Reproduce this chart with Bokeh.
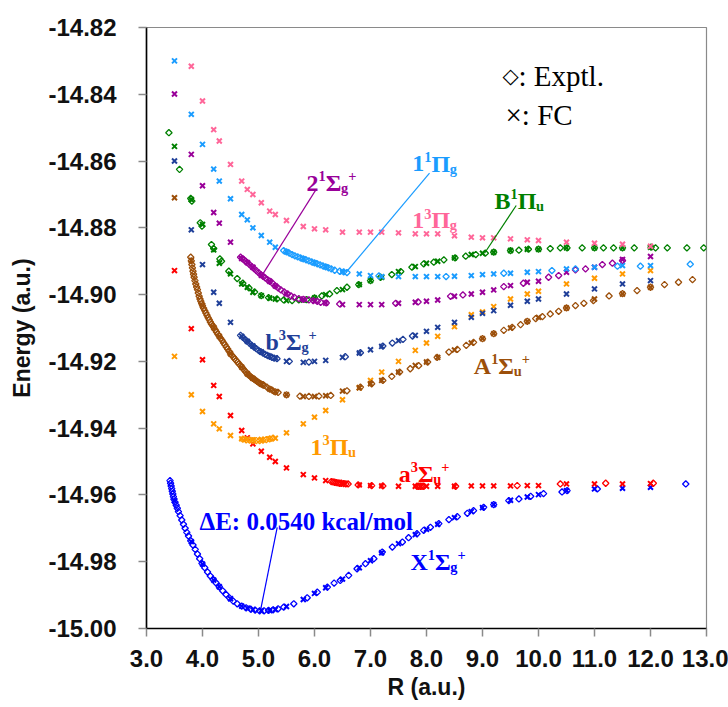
from bokeh.plotting import figure
from bokeh.models import Label, Range1d, FixedTicker, NumeralTickFormatter
from bokeh.embed import file_html
from bokeh.resources import INLINE

# ---------------- data ----------------
x_ticks = [3.0, 4.0, 5.0, 6.0, 7.0, 8.0, 9.0, 10.0, 11.0, 12.0, 13.0]
y_ticks = [-15.00, -14.98, -14.96, -14.94, -14.92, -14.90, -14.88, -14.86, -14.84, -14.82]

# common R grid of the FC points
fc_r = [3.5, 3.8, 4.0, 4.2, 4.3, 4.5, 4.7, 4.8, 4.9, 5.05, 5.2, 5.3, 5.5, 5.8, 6.0, 6.2,
        6.5, 6.8, 7.0, 7.2, 7.5, 7.8, 8.0, 8.2, 8.5, 8.8, 9.0, 9.2, 9.5, 9.8, 10.0,
        10.5, 11.0, 11.5, 12.0]

# X1Sigma_g+
x1_exp_r = [3.42, 3.43, 3.44, 3.45, 3.46, 3.47, 3.48, 3.49, 3.51, 3.53, 3.55, 3.57, 3.60, 3.63,
            3.66, 3.69, 3.72, 3.75, 3.79, 3.83, 3.87, 3.91, 3.95, 3.99, 4.04, 4.09, 4.14, 4.19,
            4.24, 4.30, 4.36, 4.42, 4.48, 4.55, 4.62, 4.70, 4.78, 4.86, 4.94, 5.02, 5.10, 5.18,
            5.26, 5.35, 5.45, 5.63, 5.87, 6.05, 6.23, 6.35, 6.46, 6.61, 6.76, 6.91, 7.06, 7.21,
            7.39, 7.57, 7.68, 7.83, 7.95, 8.07, 8.22, 8.40, 8.55, 8.73, 8.84, 9.02, 9.20, 9.47,
            9.65, 9.86, 10.09, 10.42, 10.51, 11.05, 12.63]
x1_exp_e = [-14.9557, -14.9565, -14.9573, -14.9581, -14.9589, -14.9597, -14.9605, -14.9613,
            -14.9622, -14.9631, -14.9640, -14.9650, -14.9662, -14.9675, -14.9688, -14.9700,
            -14.9712, -14.9723, -14.9737, -14.9750, -14.9763, -14.9777, -14.9791, -14.9805,
            -14.9818, -14.9831, -14.9843, -14.9853, -14.9863, -14.9875, -14.9887, -14.9898,
            -14.9908, -14.9918, -14.9926, -14.9933, -14.9938, -14.9942, -14.9945, -14.9947,
            -14.9947, -14.9946, -14.9944, -14.9941, -14.9936, -14.9926, -14.9908, -14.9891,
            -14.9876, -14.9864, -14.9856, -14.9841, -14.9821, -14.9806, -14.9791, -14.9771,
            -14.9756, -14.9741, -14.9728, -14.9716, -14.9706, -14.9697, -14.9686, -14.9674,
            -14.9665, -14.9655, -14.9647, -14.9637, -14.9629, -14.9617, -14.9612, -14.9604,
            -14.9596, -14.9591, -14.9587, -14.9582, -14.9567]
x1_fc_e = [-14.9617, -14.9740, -14.9807, -14.9855, -14.9875, -14.9911, -14.9933, -14.9939,
           -14.9944, -14.9947, -14.9946, -14.9943, -14.9934, -14.9913, -14.9895, -14.9878,
           -14.9852, -14.9818, -14.9797, -14.9773, -14.9746, -14.9719, -14.9703, -14.9688,
           -14.9668, -14.9650, -14.9638, -14.9629, -14.9616, -14.9606, -14.9599, -14.9587,
           -14.9582, -14.9580, -14.9577]

# a3Sigma_u+
a3_exp_r = [6.30, 6.33, 6.36, 6.39, 6.42, 6.45, 6.48, 6.52, 6.56, 6.60, 6.78, 7.02, 7.22,
            7.83, 7.86, 7.89, 7.92, 7.95, 8.52, 9.62, 10.39, 11.20, 12.05]
a3_exp_e = [-14.9560, -14.9561, -14.9562, -14.9563, -14.9564, -14.9565, -14.9565, -14.9566,
            -14.9567, -14.9567, -14.9570, -14.9572, -14.9573, -14.9574, -14.9574, -14.9574,
            -14.9574, -14.9574, -14.9574, -14.9572, -14.9567, -14.9565, -14.9565]
a3_fc_e = [-14.8928, -14.9102, -14.9195, -14.9272, -14.9305, -14.9362, -14.9407, -14.9429,
           -14.9447, -14.9469, -14.9487, -14.9500, -14.9519, -14.9539, -14.9549, -14.9557,
           -14.9565, -14.9570, -14.9572, -14.9573, -14.9574, -14.9574, -14.9574, -14.9574,
           -14.9574, -14.9573, -14.9573, -14.9573, -14.9573, -14.9572, -14.9572, -14.9567,
           -14.9567, -14.9567, -14.9566]

# 1(3)Pi_u
p3u_exp_r = [4.72, 4.78, 4.84, 4.90, 4.96, 5.02, 5.08, 5.14, 5.20, 5.26]
p3u_exp_e = [-14.9433, -14.9435, -14.9436, -14.9437, -14.9437, -14.9437, -14.9436, -14.9434,
             -14.9432, -14.9430]
p3u_fc_e = [-14.9185, -14.9300, -14.9350, -14.9387, -14.9402, -14.9422, -14.9432, -14.9433,
            -14.9435, -14.9434, -14.9432, -14.9430, -14.9414, -14.9387, -14.9367, -14.9347,
            -14.9315, -14.9279, -14.9257, -14.9232, -14.9200, -14.9167, -14.9145, -14.9125,
            -14.9096, -14.9060, -14.9052, -14.9036, -14.9013, -14.8998, -14.8990, -14.8968,
            -14.8951, -14.8938, -14.8928]

# A1Sigma_u+
a1_exp_r = [3.79, 3.80, 3.81, 3.82, 3.83, 3.84, 3.85, 3.865, 3.88, 3.895, 3.91, 3.925, 3.94,
            3.955, 3.97, 3.985, 4.00, 4.02, 4.04, 4.06, 4.08, 4.10, 4.12, 4.14, 4.16, 4.18,
            4.20, 4.225, 4.25, 4.275, 4.30, 4.325, 4.35, 4.375, 4.40, 4.425, 4.45, 4.475, 4.50,
            4.525, 4.55, 4.575, 4.60, 4.625, 4.65, 4.675, 4.70, 4.725, 4.75, 4.775, 4.80,
            4.825, 4.85, 4.875, 4.90, 4.925, 4.95, 4.975, 5.00, 5.025, 5.05, 5.075, 5.10, 5.15,
            5.20, 5.25, 5.30, 5.35, 5.50, 5.74, 5.90, 6.08, 6.29,
            6.58, 6.82, 7.02, 7.22, 7.38, 7.52, 7.71, 7.86, 8.02, 8.19, 8.40, 8.55, 8.71, 8.84,
            9.00, 9.20, 9.38, 9.53, 9.68, 9.80, 9.95, 10.07, 10.21, 10.36, 10.50, 10.66, 10.81,
            10.98, 11.26, 11.50, 11.76, 12.00, 12.25, 12.50, 12.75]
a1_exp_e = [-14.8888, -14.8899, -14.8910, -14.8920, -14.8930, -14.8939, -14.8948, -14.8958,
            -14.8968, -14.8977, -14.8985, -14.8995, -14.9005, -14.9013, -14.9020, -14.9027,
            -14.9033, -14.9041, -14.9048, -14.9055, -14.9062, -14.9069, -14.9075, -14.9082,
            -14.9088, -14.9093, -14.9098, -14.9105, -14.9112, -14.9119, -14.9125, -14.9131,
            -14.9137, -14.9144, -14.9150, -14.9157, -14.9163, -14.9170, -14.9177, -14.9182,
            -14.9187, -14.9192, -14.9197, -14.9202, -14.9207, -14.9212, -14.9217, -14.9222,
            -14.9227, -14.9232, -14.9237, -14.9241, -14.9244, -14.9248, -14.9251, -14.9254,
            -14.9257, -14.9260, -14.9263, -14.9266, -14.9268, -14.9270, -14.9272, -14.9277,
            -14.9283, -14.9287, -14.9291, -14.9293, -14.9300, -14.9304, -14.9305,
            -14.9304, -14.9302, -14.9288, -14.9277, -14.9267, -14.9257, -14.9245, -14.9232,
            -14.9222, -14.9213, -14.9202, -14.9188, -14.9172, -14.9164, -14.9152, -14.9143,
            -14.9132, -14.9117, -14.9107, -14.9098, -14.9090, -14.9080, -14.9072, -14.9066,
            -14.9058, -14.9050, -14.9040, -14.9033, -14.9026, -14.9018, -14.9004, -14.8997,
            -14.8988, -14.8978, -14.8970, -14.8963, -14.8955]
a1_fc_e = [-14.8710, -14.8898, -14.9033, -14.9098, -14.9125, -14.9177, -14.9217, -14.9237,
           -14.9251, -14.9268, -14.9283, -14.9291, -14.9300, -14.9305, -14.9305, -14.9303,
           -14.9289, -14.9279, -14.9267, -14.9257, -14.9232, -14.9212, -14.9202, -14.9188,
           -14.9166, -14.9145, -14.9132, -14.9117, -14.9100, -14.9080, -14.9068, -14.9040,
           -14.9013, -14.8998, -14.8978]

# b3Sigma_g+
b3_exp_r = [4.68, 4.72, 4.76, 4.80, 4.84, 4.88, 4.92, 4.96, 5.00, 5.04, 5.08, 5.12, 5.16, 5.20,
            5.24, 5.28, 5.33, 5.55, 5.90, 6.55, 6.82, 7.22, 7.39, 7.58, 7.75]
b3_exp_e = [-14.9122, -14.9128, -14.9134, -14.9140, -14.9146, -14.9152, -14.9157, -14.9162,
            -14.9167, -14.9171, -14.9175, -14.9179, -14.9182, -14.9185, -14.9188, -14.9190,
            -14.9192, -14.9200, -14.9202, -14.9186, -14.9174, -14.9154, -14.9145, -14.9134,
            -14.9124]
b3_fc_e = [-14.8600, -14.8806, -14.8910, -14.8993, -14.9026, -14.9083, -14.9125, -14.9140,
           -14.9154, -14.9172, -14.9185, -14.9190, -14.9200, -14.9203, -14.9200, -14.9197,
           -14.9188, -14.9175, -14.9165, -14.9155, -14.9138, -14.9122, -14.9110, -14.9098,
           -14.9083, -14.9068, -14.9056, -14.9048, -14.9032, -14.9020, -14.9013, -14.8998,
           -14.8983, -14.8968, -14.8958]

# B1Pi_u
b1_exp_r = [3.40, 3.59, 3.79, 3.81, 3.96, 3.99, 4.16, 4.20, 4.31, 4.34, 4.47, 4.62, 4.72, 4.83,
            4.93, 5.05, 5.18, 5.33, 5.45, 5.60, 5.72, 5.86, 6.00, 6.13, 6.27, 6.40, 6.58, 6.79,
            7.00, 7.18, 7.38, 7.54, 7.74, 7.95, 8.13, 8.31, 8.51, 8.70, 8.88, 9.05, 9.20, 9.50,
            9.65, 9.82, 10.00, 10.21, 10.39, 10.51, 10.78, 11.00, 11.16, 11.34, 11.50, 11.71,
            12.01, 12.09, 12.30, 12.65, 12.95]
b1_exp_e = [-14.8515, -14.8625, -14.8712, -14.8720, -14.8785, -14.8795, -14.8850, -14.8862,
            -14.8893, -14.8900, -14.8930, -14.8952, -14.8966, -14.8980, -14.8992, -14.9003,
            -14.9009, -14.9013, -14.9016, -14.9018, -14.9016, -14.9015, -14.9010, -14.9004,
            -14.8998, -14.8988, -14.8978, -14.8970, -14.8958, -14.8948, -14.8940, -14.8931,
            -14.8918, -14.8908, -14.8903, -14.8896, -14.8890, -14.8885, -14.8880, -14.8876,
            -14.8873, -14.8868, -14.8867, -14.8864, -14.8864, -14.8862, -14.8860, -14.8860,
            -14.8860, -14.8860, -14.8860, -14.8860, -14.8860, -14.8860, -14.8858, -14.8860,
            -14.8860, -14.8860, -14.8860]
b1_fc_e = [-14.8556, -14.8715, -14.8790, -14.8866, -14.8906, -14.8938, -14.8968, -14.8978,
           -14.8993, -14.9003, -14.9010, -14.9013, -14.9018, -14.9016, -14.9010, -14.9000,
           -14.8985, -14.8970, -14.8958, -14.8948, -14.8931, -14.8916, -14.8906, -14.8900,
           -14.8890, -14.8880, -14.8876, -14.8873, -14.8868, -14.8864, -14.8864, -14.8860,
           -14.8860, -14.8860, -14.8858]

# 2(1)Sigma_g+
s2_exp_r = [4.68, 4.71, 4.74, 4.77, 4.80, 4.84, 4.88, 4.92, 4.96, 5.00, 5.04, 5.08, 5.12, 5.16,
            5.20, 5.25, 5.30, 5.35, 5.40, 5.46, 5.52, 5.58, 5.64, 5.72, 5.80, 5.90, 5.98, 6.05,
            6.11, 6.21, 6.45, 7.45, 7.85, 8.43, 8.65, 9.38, 9.73, 10.18, 10.36, 10.66, 10.84,
            11.14, 11.32, 11.50]
s2_exp_e = [-14.8888, -14.8892, -14.8896, -14.8900, -14.8904, -14.8910, -14.8916, -14.8922,
            -14.8928, -14.8934, -14.8940, -14.8945, -14.8950, -14.8955, -14.8960, -14.8966,
            -14.8974, -14.8980, -14.8986, -14.8992, -14.8998, -14.9004, -14.9008, -14.9012,
            -14.9014, -14.9016, -14.9018, -14.9020, -14.9023, -14.9025, -14.9028, -14.9026,
            -14.9022, -14.9005, -14.9001, -14.8976, -14.8966, -14.8948, -14.8943, -14.8926,
            -14.8923, -14.8910, -14.8906, -14.8898]
s2_fc_e = [-14.8399, -14.8580, -14.8674, -14.8754, -14.8786, -14.8843, -14.8892, -14.8904,
           -14.8918, -14.8942, -14.8960, -14.8974, -14.8998, -14.9014, -14.9019, -14.9025,
           -14.9030, -14.9030, -14.9030, -14.9030, -14.9026, -14.9023, -14.9020, -14.9016,
           -14.9005, -14.8998, -14.8993, -14.8986, -14.8973, -14.8963, -14.8960, -14.8933,
           -14.8918, -14.8895, -14.8886]

# 1(1)Pi_g
p1g_exp_r = [5.45, 5.50, 5.55, 5.60, 5.65, 5.70, 5.75, 5.80, 5.85, 5.90, 5.95, 6.00, 6.05, 6.10,
             6.15, 6.20, 6.25, 6.30, 6.36, 6.45, 6.52, 6.58, 7.15, 8.35, 9.38, 10.24, 10.66,
             11.41, 11.82, 12.71]
p1g_exp_e = [-14.8868, -14.8872, -14.8876, -14.8880, -14.8884, -14.8887, -14.8890, -14.8893,
             -14.8896, -14.8899, -14.8902, -14.8905, -14.8908, -14.8911, -14.8914, -14.8917,
             -14.8920, -14.8923, -14.8927, -14.8930, -14.8932, -14.8934, -14.8944, -14.8946,
             -14.8936, -14.8928, -14.8923, -14.8915, -14.8915, -14.8909]
p1g_fc_e = [-14.8300, -14.8460, -14.8550, -14.8624, -14.8660, -14.8713, -14.8760, -14.8776,
            -14.8800, -14.8823, -14.8843, -14.8858, -14.8872, -14.8893, -14.8905, -14.8917,
            -14.8932, -14.8938, -14.8943, -14.8946, -14.8946, -14.8946, -14.8946, -14.8946,
            -14.8945, -14.8943, -14.8940, -14.8938, -14.8936, -14.8933, -14.8931, -14.8923,
            -14.8918, -14.8913, -14.8913]

# 1(3)Pi_g (FC only)
p3g_fc_r = [3.8, 4.0, 4.2, 4.3, 4.5, 4.7, 4.8, 4.9, 5.05, 5.2, 5.3, 5.5, 5.8, 6.0, 6.2, 6.5,
            6.8, 7.0, 7.2, 7.5, 7.8, 8.0, 8.2, 8.5, 8.8, 9.0, 9.2, 9.5, 9.8, 10.0, 10.5, 11.0,
            11.5, 12.0]
p3g_fc_e = [-14.8316, -14.8420, -14.8506, -14.8540, -14.8610, -14.8660, -14.8685, -14.8700,
            -14.8725, -14.8750, -14.8760, -14.8778, -14.8796, -14.8803, -14.8806, -14.8813,
            -14.8813, -14.8813, -14.8813, -14.8815, -14.8818, -14.8818, -14.8818, -14.8824,
            -14.8828, -14.8830, -14.8830, -14.8833, -14.8836, -14.8838, -14.8843, -14.8846,
            -14.8849, -14.8855]

# ---------------- styles ----------------
C_X1 = "#0000ff"
C_A3 = "#ff0000"
C_P3U = "#ff9900"
C_A1 = "#9c4f0a"
C_B3 = "#1f3f99"
C_B1 = "#008000"
C_S2 = "#990099"
C_P1G = "#1a9cff"
C_P3G = "#ff6699"

AX_FONT = "Liberation Sans"
SERIF = "Liberation Serif"

p = figure(width=728, height=707, x_range=Range1d(3.0, 13.0), y_range=Range1d(-15.0, -14.82),
           output_backend="svg", toolbar_location=None,
           min_border_left=146, min_border_right=22, min_border_top=27, min_border_bottom=79)
p.background_fill_color = "white"
p.border_fill_color = "white"
p.grid.visible = False
p.outline_line_color = "#8a8a8a"
p.outline_line_width = 1.2

p.xaxis.ticker = FixedTicker(ticks=x_ticks)
p.yaxis.ticker = FixedTicker(ticks=y_ticks)
p.xaxis.formatter = NumeralTickFormatter(format="0.0")
p.yaxis.formatter = NumeralTickFormatter(format="0.00")
for ax in (p.xaxis[0], p.yaxis[0]):
    ax.axis_line_color = "black"
    ax.axis_line_width = 1.6
    ax.major_tick_line_color = "#8a8a8a"
    ax.major_tick_line_width = 1.5
    ax.major_tick_out = 8
    ax.major_tick_in = 0
    ax.minor_tick_line_color = None
    ax.major_label_text_font = AX_FONT
    ax.major_label_text_font_size = "24px"
    ax.major_label_text_font_style = "bold"
    ax.major_label_text_color = "#111111"
    ax.axis_label_text_font = AX_FONT
    ax.axis_label_text_font_size = "23px"
    ax.axis_label_text_font_style = "bold"
    ax.axis_label_text_color = "#111111"
p.xaxis.axis_label = "R (a.u.)"
p.yaxis.axis_label = "Energy (a.u.)"
p.xaxis.major_label_standoff = 13
p.yaxis.major_label_standoff = 22
p.xaxis.axis_label_standoff = 4
p.yaxis.axis_label_standoff = 10

series = [
    (x1_exp_r, x1_exp_e, fc_r, x1_fc_e, C_X1),
    (a3_exp_r, a3_exp_e, fc_r, a3_fc_e, C_A3),
    (p3u_exp_r, p3u_exp_e, fc_r, p3u_fc_e, C_P3U),
    (a1_exp_r, a1_exp_e, fc_r, a1_fc_e, C_A1),
    (b3_exp_r, b3_exp_e, fc_r, b3_fc_e, C_B3),
    (b1_exp_r, b1_exp_e, fc_r, b1_fc_e, C_B1),
    (s2_exp_r, s2_exp_e, fc_r, s2_fc_e, C_S2),
    (p1g_exp_r, p1g_exp_e, fc_r, p1g_fc_e, C_P1G),
    ([], [], p3g_fc_r, p3g_fc_e, C_P3G),
]
for er, ee, fr, fe, col in series:
    assert len(er) == len(ee) and len(fr) == len(fe)
    if er:
        p.scatter(er, ee, marker="square", angle=0.7854, size=4.5, fill_color=None,
                  line_color=col, line_width=1.3)
    p.scatter(fr, fe, marker="x", size=7, line_color=col, line_width=2)

# ---------------- annotations ----------------
leaders = [  # (R0, E0, R1, E1, colour)
    (6.018, -14.8688, 5.071, -14.8940, C_S2),
    (8.054, -14.8636, 6.566, -14.8933, C_P1G),
    (9.602, -14.8733, 9.036, -14.8876, C_B1),
    (5.334, -14.9697, 5.036, -14.9946, C_X1),
]
for r0, e0, r1, e1, col in leaders:
    p.segment(x0=[r0], y0=[e0], x1=[r1], y1=[e1], line_color=col, line_width=1.2)

EM = {'0': .5, '1': .5, '2': .5, '3': .5, '4': .5, '5': .5, 'A': .722, 'B': .667,
      'E': .667, 'X': .722, 'a': .5, 'b': .556, 'c': .444, 'g': .5, 'k': .556, 'l': .278,
      'm': .833, 'o': .5, 'u': .556, ':': .333, ' ': .25, '.': .25, '/': .278, '+': .57,
      'Π': .76, 'Σ': .64, 'Δ': .64}


def rich(x, y, pieces, color, fs):
    off = 0.0
    for txt, kind in pieces:
        size = fs if kind == "n" else fs * 0.6
        yoff = 0 if kind == "n" else (fs * 0.29 if kind == "sup" else -fs * 0.2)
        p.add_layout(Label(x=x, y=y, x_offset=off, y_offset=yoff, text=txt,
                           text_font=SERIF, text_font_size=f"{size:.1f}px",
                           text_font_style="bold", text_color=color,
                           text_baseline="alphabetic", text_align="left"))
        off += sum(EM.get(ch, .55) for ch in txt) * size


FS = 24
rich(5.857, -14.8667, [("2", "n"), ("1", "sup"), ("Σ", "n"), ("g", "sub"), ("+", "sup")], C_S2, FS)
rich(7.745, -14.8608, [("1", "n"), ("1", "sup"), ("Π", "n"), ("g", "sub")], C_P1G, FS)
rich(7.745, -14.8778, [("1", "n"), ("3", "sup"), ("Π", "n"), ("g", "sub")], C_P3G, FS)
rich(9.214, -14.8720, [("B", "n"), ("1", "sup"), ("Π", "n"), ("u", "sub")], C_B1, FS)
rich(5.125, -14.9143, [("b", "n"), ("3", "sup"), ("Σ", "n"), ("g", "sub"), ("+", "sup")], C_B3, FS)
rich(8.845, -14.9215, [("A", "n"), ("1", "sup"), ("Σ", "n"), ("u", "sub"), ("+", "sup")], C_A1, FS)
rich(5.930, -14.9457, [("1", "n"), ("3", "sup"), ("Π", "n"), ("u", "sub")], C_P3U, FS)
rich(7.505, -14.9537, [("a", "n"), ("3", "sup"), ("Σ", "n"), ("u", "sub"), ("+", "sup")], C_A3, FS)
rich(7.714, -14.9802, [("X", "n"), ("1", "sup"), ("Σ", "n"), ("g", "sub"), ("+", "sup")], C_X1, FS)
rich(3.946, -14.9679, [("ΔE: 0.0540 kcal/mol", "n")], C_X1, 25)

# legend text
p.add_layout(Label(x=9.357, y=-14.8344, text="◇", text_font="DejaVu Sans",
                   text_font_size="21px", text_color="black", text_baseline="alphabetic"))
p.add_layout(Label(x=9.357, y=-14.8344, x_offset=16, text=": Exptl.", text_font=SERIF,
                   text_font_size="29px", text_color="black", text_baseline="alphabetic"))
p.add_layout(Label(x=9.411, y=-14.8461, text="×: FC", text_font=SERIF,
                   text_font_size="29px", text_color="black", text_baseline="alphabetic"))

open("out.html", "w").write(file_html(p, INLINE))
